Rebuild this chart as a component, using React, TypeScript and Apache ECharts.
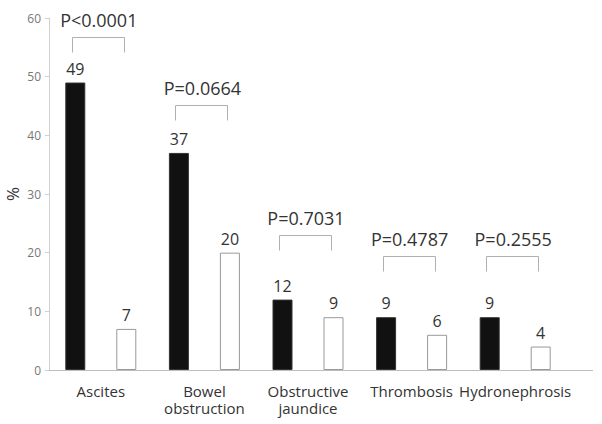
import React, { useEffect, useRef } from "react";
import * as echarts from "echarts";

const categories = ["Ascites", "Bowel\nobstruction", "Obstructive\njaundice", "Thrombosis", "Hydronephrosis"];
const groupA = [49, 37, 12, 9, 9];
const groupB = [7, 20, 9, 6, 4];
const pLabels = ["P<0.0001", "P=0.0664", "P=0.7031", "P=0.4787", "P=0.2555"];
const bracketLevels = [56.8, 45.2, 23.0, 19.4, 19.4];
const yTicks = { min: 0, max: 60, interval: 10 };

const FONT = "'Open Sans', 'Noto Sans', sans-serif";

export default function App() {
  const ref = useRef<HTMLDivElement>(null);
  useEffect(() => {
    if (!ref.current) return;
    const chart = echarts.init(ref.current, null, { renderer: "svg" });
    const bracketData = bracketLevels.map((v, i) => [i, v]);
    chart.setOption({
      animation: false,
      backgroundColor: "#ffffff",
      textStyle: { fontFamily: FONT },
      grid: { left: 49, right: 35, top: 18, bottom: 54, containLabel: false, outerBoundsMode: "none" },
      xAxis: {
        type: "category",
        data: categories,
        axisTick: { show: false },
        axisLine: { lineStyle: { color: "#bdbdbd", width: 1 } },
        axisLabel: { color: "#333", fontSize: 15, lineHeight: 17, margin: 12, fontFamily: FONT, interval: 0 },
      },
      yAxis: {
        type: "value",
        min: yTicks.min,
        max: yTicks.max,
        interval: yTicks.interval,
        name: "%",
        nameLocation: "middle",
        nameRotate: 90,
        nameGap: 28,
        nameMoveOverlap: false,
        nameTextStyle: { color: "#333", fontSize: 17, fontFamily: FONT },
        axisLine: { show: true, lineStyle: { color: "#d0d0d0", width: 1 } },
        axisTick: { show: true, length: 4, lineStyle: { color: "#d0d0d0" } },
        splitLine: { show: false },
        axisLabel: { color: "#777", fontSize: 12, margin: 8, fontFamily: FONT },
      },
      graphic: [
        {
          type: "line",
          shape: { x1: 566, y1: 370.5, x2: 593, y2: 370.5 },
          style: { stroke: "#bdbdbd", lineWidth: 1 },
          silent: true,
        },
      ],
      series: [
        {
          type: "bar",
          data: groupA,
          barWidth: 20,
          barGap: "155%",
          itemStyle: { color: "#111111", borderColor: "#333", borderWidth: 1 },
          label: { show: true, position: "top", distance: 6, color: "#333", fontSize: 16, fontFamily: FONT },
        },
        {
          type: "bar",
          data: groupB,
          barWidth: 20,
          barGap: "155%",
          itemStyle: { color: "#ffffff", borderColor: "#999", borderWidth: 1 },
          label: { show: true, position: "top", distance: 6, color: "#333", fontSize: 16, fontFamily: FONT },
        },
        {
          type: "custom",
          data: bracketData,
          z: 10,
          renderItem: (params: any, api: any) => {
            const idx = api.value(0);
            const p = api.coord([idx, api.value(1)]);
            const x = p[0];
            const y = Math.round(p[1]) + 0.5;
            const left = Math.round(x - 29) + 0.5;
            const right = Math.round(x + 23) + 0.5;
            return {
              type: "group",
              children: [
                {
                  type: "polyline",
                  shape: { points: [[left, y + 15], [left, y], [right, y], [right, y + 15]] },
                  style: { stroke: "#b0b0b0", lineWidth: 1, fill: null },
                },
                {
                  type: "text",
                  style: {
                    text: pLabels[params.dataIndex],
                    x: x - 2,
                    y: y - 18,
                    align: "center",
                    verticalAlign: "middle",
                    fill: "#333",
                    fontSize: 18,
                    fontFamily: FONT,
                  },
                },
              ],
            };
          },
        },
      ],
    });
    return () => chart.dispose();
  }, []);
  return <div ref={ref} style={{ width: 602, height: 424, position: "absolute", left: 0, top: 0 }} />;
}
